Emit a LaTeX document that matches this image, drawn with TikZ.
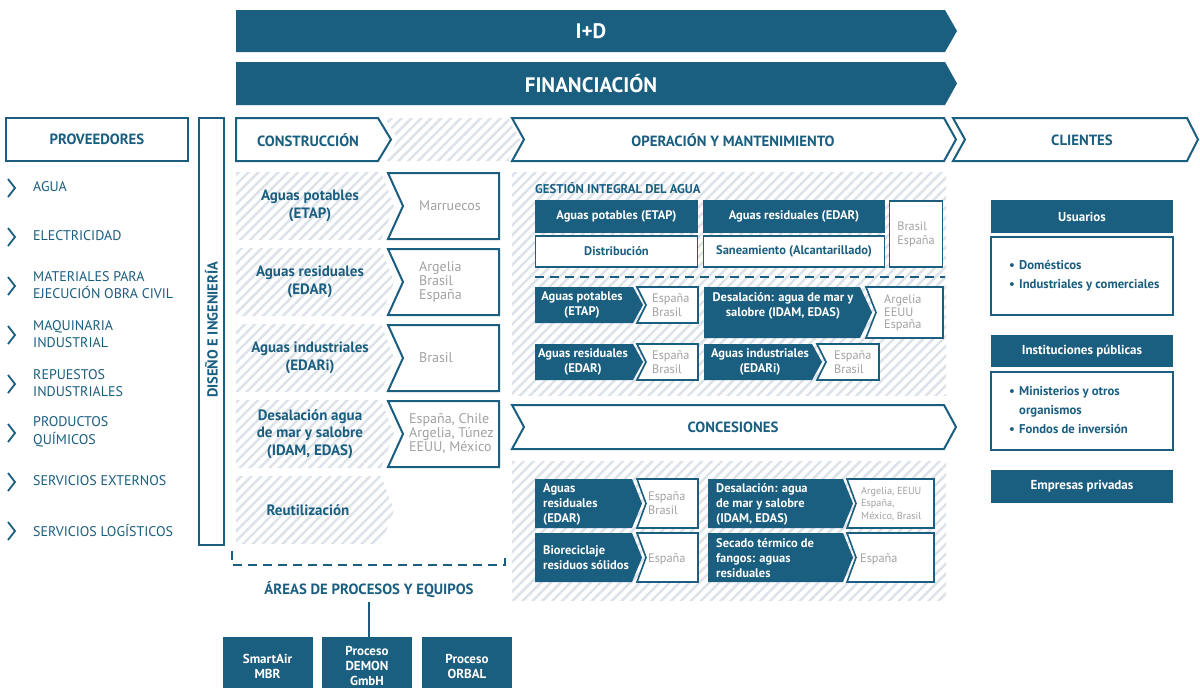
\documentclass[tikz,border=0pt]{standalone}
\usepackage{fontspec}
\setmainfont{PT Sans}
\usetikzlibrary{patterns.meta}

\definecolor{dblue}{HTML}{1A5E80}
\definecolor{hatchgray}{HTML}{DCE2E9}
\definecolor{greytext}{HTML}{A2A2A2}

\newcommand{\sizeat}[2]{\fontsize{#1}{#2}\selectfont}
\newcommand{\chevpath}[7]{\path[#1] (#2,#3) -- (#4,#3) -- ({#4+#7},{(#3+#5)/2}) -- (#4,#5) -- (#2,#5) -- ({#2+#6},{(#3+#5)/2}) -- cycle;}
\newcommand{\provitem}[3]{\draw[provchev] (8,{#2-8}) -- (15,{#2+1}) -- (8,{#2+10}); \node[provlabel] (#1) at (33,#2) {#3};}
\newcommand{\conrow}[6]{\chevpath{hatchbox}{236}{#2}{381}{#3}{0}{13}
  \chevpath{countrybox}{388}{#2+1}{499}{#3-1}{15}{0}
  \node[conlabel] (#1) at (310,{(#2+#3)/2}) {#4};
  \node[country] (#1pais) at (#5,{(#2+#3)/2}) {#6};}
\newcommand{\clientbullet}{\makebox[10pt][l]{\textbullet}}

\tikzset{
  bluebar/.style={fill=dblue},
  barlabel/.style={text=white, font=\sizeat{21}{24}\bfseries},
  headbox/.style={draw=dblue, line width=2pt, fill=white, line join=miter},
  headlabel/.style={text=dblue, font=\sizeat{14.8}{17}\bfseries},
  hatchbox/.style={pattern={Lines[angle=45,distance=7pt,line width=2.4pt]}, pattern color=hatchgray},
  countrybox/.style={draw=dblue, line width=2pt, fill=white, line join=miter},
  conlabel/.style={text=dblue, align=center, font=\sizeat{15}{17.5}\bfseries},
  country/.style={text=greytext, align=left, anchor=west, inner sep=0pt, font=\sizeat{14}{14}},
  provchev/.style={draw=dblue, line width=1.8pt},
  provlabel/.style={text=dblue, align=left, anchor=west, inner sep=0pt, font=\sizeat{14}{17.5}},
  opfill/.style={fill=dblue, text=white, align=center, inner sep=0pt, font=\sizeat{12.5}{15}\bfseries},
  opwhite/.style={draw=dblue, line width=1.6pt, fill=white, text=dblue, align=center, inner sep=0pt, font=\sizeat{12.5}{15}\bfseries},
  opchev/.style={fill=dblue},
  opnotch/.style={draw=dblue, line width=1.6pt, fill=white, line join=miter},
  optext/.style={text=white, align=center, inner sep=0pt, font=\sizeat{12.5}{15}\bfseries},
  opcountry/.style={text=greytext, align=left, anchor=west, inner sep=0pt, font=\sizeat{12.3}{14}},
  smallcountry/.style={opcountry, font=\sizeat{10.2}{12.5}},
  clientfill/.style={fill=dblue, text=white, minimum width=182pt, minimum height=33pt, inner sep=0pt, font=\sizeat{13}{15}\bfseries},
  clientbox/.style={draw=dblue, line width=1.6pt, fill=white, minimum width=182pt, minimum height=78pt, inner sep=0pt},
  clientlist/.style={text=dblue, align=left, anchor=west, inner sep=0pt, font=\sizeat{12.7}{19}\bfseries},
  procbox/.style={fill=dblue, text=white, align=center, minimum width=90pt, minimum height=58pt, inner sep=0pt, font=\sizeat{13}{15}\bfseries},
  dashline/.style={draw=dblue, line width=2pt, dash pattern=on 9pt off 6pt}
}

\begin{document}
\begin{tikzpicture}[x=1pt,y=-1pt]
  \useasboundingbox (0,0) rectangle (1200,688);
  \fill[white] (0,0) rectangle (1200,688);

  \chevpath{bluebar}{236}{10}{945}{52}{0}{12}
  \node[barlabel] (iyd) at (591,31) {I+D};
  \chevpath{bluebar}{236}{62}{945}{105}{0}{12}
  \node[barlabel] (fin) at (591,84) {FINANCIACIÓN};

  \node[headbox, headlabel, minimum width=182pt, minimum height=43pt] (prov) at (97,139.5) {PROVEEDORES};
  \node[headbox, minimum width=25pt, minimum height=427pt] (diseno) at (211.5,331.5) {};
  \node[headlabel, rotate=90, font=\sizeat{14.5}{16}\bfseries] (disenolabel) at (211.5,330) {DISEÑO E INGENIERÍA};

  \chevpath{hatchbox}{385}{118}{508}{161}{13}{12}
  \chevpath{headbox}{236}{118}{378}{161}{0}{13}
  \node[headlabel] (constr) at (308,140) {CONSTRUCCIÓN};
  \chevpath{headbox}{512}{118}{944}{161}{12}{12}
  \node[headlabel] (opman) at (733,140) {OPERACIÓN Y MANTENIMIENTO};
  \chevpath{headbox}{953}{118}{1187}{161}{12}{11}
  \node[headlabel] (clientes) at (1082,140) {CLIENTES};

  \provitem{agua}{187}{AGUA}
  \provitem{elec}{236}{ELECTRICIDAD}
  \provitem{mater}{285}{MATERIALES PARA\\EJECUCIÓN OBRA CIVIL}
  \provitem{maqui}{334}{MAQUINARIA\\INDUSTRIAL}
  \provitem{repu}{383}{REPUESTOS\\INDUSTRIALES}
  \provitem{quim}{432}{PRODUCTOS\\QUÍMICOS}
  \provitem{servext}{481}{SERVICIOS EXTERNOS}
  \provitem{servlog}{530}{SERVICIOS LOGÍSTICOS}

  \conrow{cetap}{172}{240}{Aguas potables\\(ETAP)}{419}{Marruecos}
  \conrow{cedar}{248}{316}{Aguas residuales\\(EDAR)}{419}{Argelia\\Brasil\\España}
  \conrow{cedari}{324}{392}{Aguas industriales\\(EDARi)}{419}{Brasil}
  \conrow{cidam}{400}{468}{Desalación agua\\de mar y salobre\\(IDAM, EDAS)}{409}{España, Chile\\Argelia, Túnez\\EEUU, México}
  \chevpath{hatchbox}{236}{476}{381}{544}{0}{13}
  \node[conlabel] (creutil) at (308,510) {Reutilización};

  \draw[dashline] (232,551) -- (232,565) -- (505,565) -- (505,557);
  \node[headlabel] (areas) at (369,590) {ÁREAS DE PROCESOS Y EQUIPOS};
  \node[procbox] (smartair) at (267.5,666) {SmartAir\\MBR};
  \node[procbox] (demon) at (367,666) {Proceso\\DEMON\\GmbH};
  \node[procbox] (orbal) at (467,666) {Proceso\\ORBAL};
  \draw[dblue, line width=2pt] (areas.south) -- (areas.south |- demon.north);

  \path[hatchbox] (512,172) rectangle (946,395);
  \node[anchor=west, text=dblue, inner sep=0pt, font=\sizeat{12.7}{14}\bfseries] (gestion) at (535,188) {GESTIÓN INTEGRAL DEL AGUA};
  \node[opfill, minimum width=163pt, minimum height=33pt] (gpot) at (616.5,216.5) {Aguas potables (ETAP)};
  \node[opfill, minimum width=182pt, minimum height=33pt] (gres) at (794,216.5) {Aguas residuales (EDAR)};
  \node[opwhite, minimum width=162pt, minimum height=31pt] (gdist) at (616.5,251.5) {Distribución};
  \node[opwhite, minimum width=181pt, minimum height=31pt] (gsan) at (794,251.5) {Saneamiento (Alcantarillado)};
  \node[opwhite, minimum width=53pt, minimum height=66pt, text=greytext, align=left, font=\sizeat{12.3}{14}] (gpais) at (916,234) {Brasil\\España};
  \draw[dashline] (535,277) -- (945,277);

  \chevpath{opchev}{535}{287}{633}{323}{0}{10}
  \node[optext] (opetap) at (582,305) {Aguas potables\\(ETAP)};
  \chevpath{opnotch}{637}{287}{698}{323}{9}{0}
  \node[opcountry] (opetappais) at (652,305) {España\\Brasil};
  \chevpath{opchev}{704}{287}{860}{338}{0}{12}
  \node[optext] (opdesal) at (783,306) {Desalación: agua de mar y\\salobre (IDAM, EDAS)};
  \chevpath{opnotch}{866}{287}{943}{338}{10}{0}
  \node[opcountry, font=\sizeat{12.3}{12.5}] (opdesalpais) at (884,313) {Argelia\\EEUU\\España};
  \chevpath{opchev}{535}{344}{633}{380}{0}{10}
  \node[optext] (opedar) at (583,362) {Aguas residuales\\(EDAR)};
  \chevpath{opnotch}{637}{344}{698}{380}{9}{0}
  \node[opcountry] (opedarpais) at (652,362) {España\\Brasil};
  \chevpath{opchev}{704}{344}{812}{380}{0}{10}
  \node[optext] (opedari) at (760,362) {Aguas industriales\\(EDARi)};
  \chevpath{opnotch}{817}{344}{879}{380}{9}{0}
  \node[opcountry] (opedaripais) at (834,362) {España\\Brasil};

  \chevpath{headbox}{512}{405}{944}{449}{12}{12}
  \node[headlabel] (conces) at (733,427) {CONCESIONES};
  \path[hatchbox] (512,461) rectangle (946,600);
  \chevpath{opchev}{535}{479}{632}{528}{0}{10}
  \node[optext, anchor=west, align=left] (ksedar) at (543,504) {Aguas\\residuales\\(EDAR)};
  \chevpath{opnotch}{637}{479}{698}{528}{9}{0}
  \node[opcountry] (ksedarpais) at (648,503) {España\\Brasil};
  \chevpath{opchev}{708}{479}{843}{528}{0}{10}
  \node[optext, anchor=west, align=left] (ksdesal) at (716,504) {Desalación: agua\\de mar y salobre\\(IDAM, EDAS)};
  \chevpath{opnotch}{847}{479}{934}{528}{9}{0}
  \node[smallcountry] (ksdesalpais) at (861,504) {Argelia, EEUU\\España,\\México, Brasil};
  \chevpath{opchev}{535}{533}{632}{582}{0}{10}
  \node[optext, anchor=west, align=left] (ksbio) at (543,558) {Bioreciclaje\\residuos sólidos};
  \chevpath{opnotch}{637}{533}{698}{582}{9}{0}
  \node[opcountry] (ksbiopais) at (648,559) {España};
  \chevpath{opchev}{708}{533}{843}{582}{0}{10}
  \node[optext, anchor=west, align=left] (kssecado) at (716,558) {Secado térmico de\\fangos: aguas\\residuales};
  \chevpath{opnotch}{847}{533}{934}{582}{9}{0}
  \node[opcountry] (kssecadopais) at (860,559) {España};

  \node[clientfill] (usuarios) at (1082,216.5) {Usuarios};
  \node[clientbox] (usubox) at (1082,276) {};
  \node[clientlist] (usulist) at (1009,275.5) {\clientbullet Domésticos\\\clientbullet Industriales y comerciales};
  \node[clientfill, minimum height=32pt] (instit) at (1082,351) {Instituciones públicas};
  \node[clientbox] (instbox) at (1082,411) {};
  \node[clientlist] (instlist) at (1009,410) {\clientbullet Ministerios y otros\\\hspace*{10pt}organismos\\\clientbullet Fondos de inversión};
  \node[clientfill] (empresas) at (1082,486.5) {Empresas privadas};
\end{tikzpicture}
\end{document}
